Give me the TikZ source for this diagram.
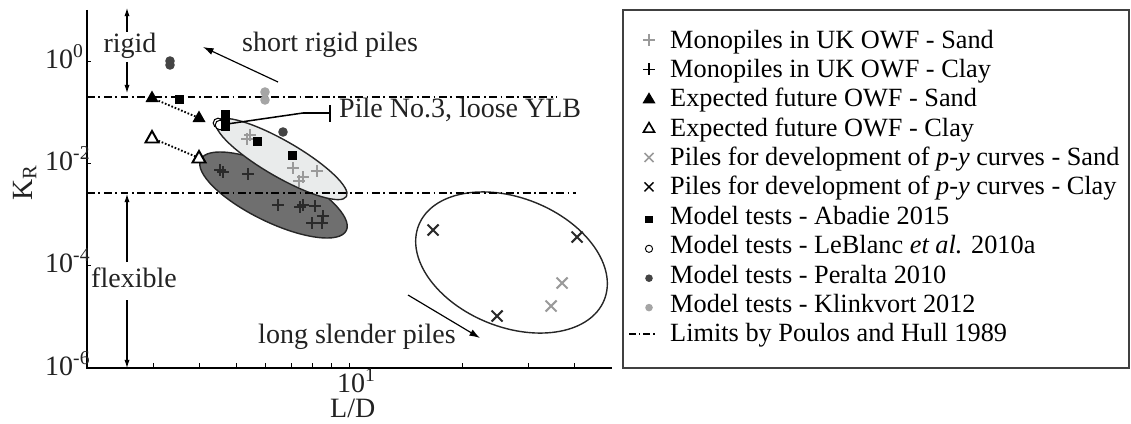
\documentclass[tikz,border=0pt]{standalone}
\usepackage{fontspec}
\setmainfont{Liberation Serif}
\usetikzlibrary{arrows.meta,shapes.geometric}
\definecolor{sandc}{HTML}{9A9A9A}
\definecolor{clayc}{HTML}{2A2A2A}
\definecolor{peralc}{HTML}{444444}
\definecolor{klinkc}{HTML}{A5A5A5}
\definecolor{lightell}{HTML}{E9EBEB}
\definecolor{darkell}{HTML}{6F6F6F}
\definecolor{txtc}{HTML}{222222}
\begin{document}
\begin{tikzpicture}[x=0.03cm,y=-0.03cm,
  plottext/.style={font=\fontsize{23.9}{26}\selectfont, text=txtc, inner sep=0pt},
  legtext/.style={font=\fontsize{22.45}{25}\selectfont, inner sep=0pt, anchor=base west},
  axisline/.style={line width=1.2pt, draw=black},
  tickline/.style={line width=0.6pt},
  dashdot/.style={line width=1.1pt, dash pattern=on 6.8pt off 3pt on 1.5pt off 3pt},
  ellline/.style={line width=1.2pt, draw=black!85},
  arr/.style={line width=0.9pt, -{Latex[length=7pt,width=4.5pt]}},
  pplus/.pic={\draw[line width=2.1pt] (-6,0)--(6,0) (0,-6)--(0,6);},
  pcross/.pic={\draw[line width=1.8pt] (-5.5,-5.5)--(5.5,5.5) (-5.5,5.5)--(5.5,-5.5);},
  ptri/.pic={\fill (0,-7.5) -- (6.5,4) -- (-6.5,4) -- cycle;},
  popentri/.pic={\draw[line width=1.7pt, fill=white, line join=miter] (0,-7) -- (6.5,4.5) -- (-6.5,4.5) -- cycle;},
  psq/.pic={\fill (-4.5,-4.5) rectangle (4.5,4.5);},
  pcirc/.pic={\fill (0,0) circle [radius=4.8];},
  popencirc/.pic={\draw[line width=0.9pt, fill=white] (0,0) circle [radius=4.8];},
  lplus/.pic={\draw[line width=1.5pt] (-6,0)--(6,0) (0,-6)--(0,6);},
  lcross/.pic={\draw[line width=1.3pt] (-4.5,-4.5)--(4.5,4.5) (-4.5,4.5)--(4.5,-4.5);},
  ltri/.pic={\fill (0,-6.5) -- (6.5,4.5) -- (-6.5,4.5) -- cycle;},
  lopentri/.pic={\draw[line width=1.4pt, line join=miter] (0,-5.5) -- (5.5,4) -- (-5.5,4) -- cycle;},
  lsq/.pic={\fill (-3.8,-3.8) rectangle (3.8,3.8);},
  lcirc/.pic={\fill (0,0) circle [radius=3.8];},
  lopencirc/.pic={\draw[line width=0.8pt] (0,0) circle [radius=3.6];}
]
\useasboundingbox (0,0) rectangle (1131,423);

% ellipses
\draw[ellline, fill=darkell, rotate around={-26:(273.5,195)}] (273.5,195) ellipse [x radius=81, y radius=27];
\draw[ellline, fill=lightell, rotate around={-30:(281.5,159)}] (281.5,159) ellipse [x radius=75, y radius=18];
\draw[ellline, rotate around={-22:(511.5,262.5)}] (511.5,262.5) ellipse [x radius=100, y radius=64.5];

% axes
\draw[axisline] (87,10) -- (87,368) -- (612,368);
\foreach \y in {61,163,265} \draw[tickline] (87,\y) -- (91,\y);
\foreach \x in {152.9,199.8,236.1,265.8,290.9,312.7,331.8,349,461.9,527.9,574.8} \draw[tickline] (\x,368) -- (\x,363);

% tick labels
\node[plottext, anchor=base west] (y0) at (45,68.5) {10\textsuperscript{0}};
\node[plottext, anchor=base west] (y2) at (45,170.5) {10\textsuperscript{-2}};
\node[plottext, anchor=base west] (y4) at (45,272.5) {10\textsuperscript{-4}};
\node[plottext, anchor=base west] (y6) at (45,375.5) {10\textsuperscript{-6}};
\node[plottext, anchor=base west] (x1) at (337,392) {10\textsuperscript{1}};
\node[plottext, anchor=base west] (xlab) at (330,417.5) {L/D};
\node[plottext, anchor=base, rotate=90, font=\fontsize{25}{27}\selectfont] (ylab) at (32,183) {K\textsubscript{R}};

% limits
\draw[dashdot] (87,97) -- (557,97);
\draw[dashdot] (87,193) -- (576,193);

% rigid / flexible arrows
\node[plottext, anchor=base] (rigid) at (130,53) {rigid};
\node[plottext, anchor=base] (flex) at (134,287) {flexible};
\coordinate (rtop) at (127,8);
\coordinate (rbot) at (127,93);
\coordinate (ftop) at (127,194);
\coordinate (fbot) at (127,368);
\draw[arr] (127,32) -- (rtop);
\draw[arr] (127,62) -- (rbot);
\draw[arr] (127,262) -- (ftop);
\draw[arr] (127,300) -- (fbot);

% dotted links
\draw[line width=1.6pt, dash pattern=on 1.4pt off 1.6pt] (152,98) -- (199,118);
\draw[line width=1.6pt, dash pattern=on 1.4pt off 1.6pt] (152,138) -- (199,158);

% markers
\pic[color=peralc] at (170,61) {pcirc};
\pic[color=peralc] at (170,65) {pcirc};
\pic[color=peralc] at (283,132) {pcirc};
\pic[color=klinkc] at (265,92) {pcirc};
\pic[color=klinkc] at (265,100) {pcirc};
\pic[color=black] at (152,98) {ptri};
\pic[color=black] at (199,118) {ptri};
\pic[color=black] at (152,138) {popentri};
\pic[color=black] at (199,158) {popentri};
\pic[color=black] at (218,123) {popencirc};
\pic[color=black] at (220,125) {popencirc};
\foreach \p in {(179,99),(225,114),(225,120),(225,126),(257,141),(292,155)} \pic[color=black] at \p {psq};
\foreach \p in {(247,139),(250,135),(293,168),(303,177),(317,171),(299,181)} \pic[color=sandc] at \p {pplus};
\foreach \p in {(220,170),(223,172),(248,174),(278,205),(300,207),(303,205),(315,206),(323,216),(312,223),(322,223)} \pic[color=clayc] at \p {pplus};
\foreach \p in {(433,230),(577,237),(497,316)} \pic[color=clayc] at \p {pcross};
\foreach \p in {(562,283),(551,306)} \pic[color=sandc] at \p {pcross};

% annotations
\node[plottext, anchor=base west] (srp) at (242,52) {short rigid piles};
\node[plottext, anchor=base west] (lsp) at (258,343) {long slender piles};
\node[plottext, anchor=base west] (pile3) at (339,117) {Pile No.3, loose YLB};
\coordinate (srpA) at (278,82);
\coordinate (srpB) at (203,47);
\draw[line width=1pt, -{Latex[length=9pt,width=6pt]}] (srpA) -- (srpB);
\coordinate (lspA) at (408,295);
\coordinate (lspB) at (480,338);
\draw[line width=1pt, -{Latex[length=9pt,width=6pt]}] (lspA) -- (lspB);
\coordinate (pA) at (227,124);
\coordinate (pB) at (303,113);
\coordinate (pC) at (330,113);
\draw[line width=1.3pt] (pA) -- (pB) -- (pC);
\draw[line width=1.3pt] (330,105) -- (330,122);

% legend
\draw[line width=0.9pt, draw=black!75] (623,10) rectangle (1129,368);
\pic[color=sandc] at (649,40) {lplus};
\pic[color=black] at (649,69.4) {lplus};
\pic[color=black] at (649,98.8) {ltri};
\pic[color=black] at (649,128.1) {lopentri};
\pic[color=sandc] at (649,157.5) {lcross};
\pic[color=black] at (649,186.9) {lcross};
\pic[color=black] at (649,219.4) {lsq};
\pic[color=black] at (649,248.8) {lopencirc};
\pic[color=peralc] at (649,278.2) {lcirc};
\pic[color=klinkc] at (649,307.6) {lcirc};
\draw[line width=1.1pt, dash pattern=on 6pt off 2.5pt on 1.3pt off 2.5pt] (629,334) -- (657,334);
\node[legtext] (l0) at (670,48) {Monopiles in UK OWF - Sand};
\node[legtext] (l1) at (670,77.4) {Monopiles in UK OWF - Clay};
\node[legtext] (l2) at (670,106.8) {Expected future OWF - Sand};
\node[legtext] (l3) at (670,136.1) {Expected future OWF - Clay};
\node[legtext] (l4) at (670,165.5) {Piles for development of \textit{p-y} curves - Sand};
\node[legtext] (l5) at (670,194.9) {Piles for development of \textit{p-y} curves - Clay};
\node[legtext] (l6) at (670,224.3) {Model tests - Abadie 2015};
\node[legtext] (l7) at (670,253.7) {Model tests - LeBlanc \textit{et al.} 2010a};
\node[legtext] (l8) at (670,283.1) {Model tests - Peralta 2010};
\node[legtext] (l9) at (670,312.5) {Model tests - Klinkvort 2012};
\node[legtext] (l10) at (670,341.8) {Limits by Poulos and Hull 1989};
\end{tikzpicture}
\end{document}
